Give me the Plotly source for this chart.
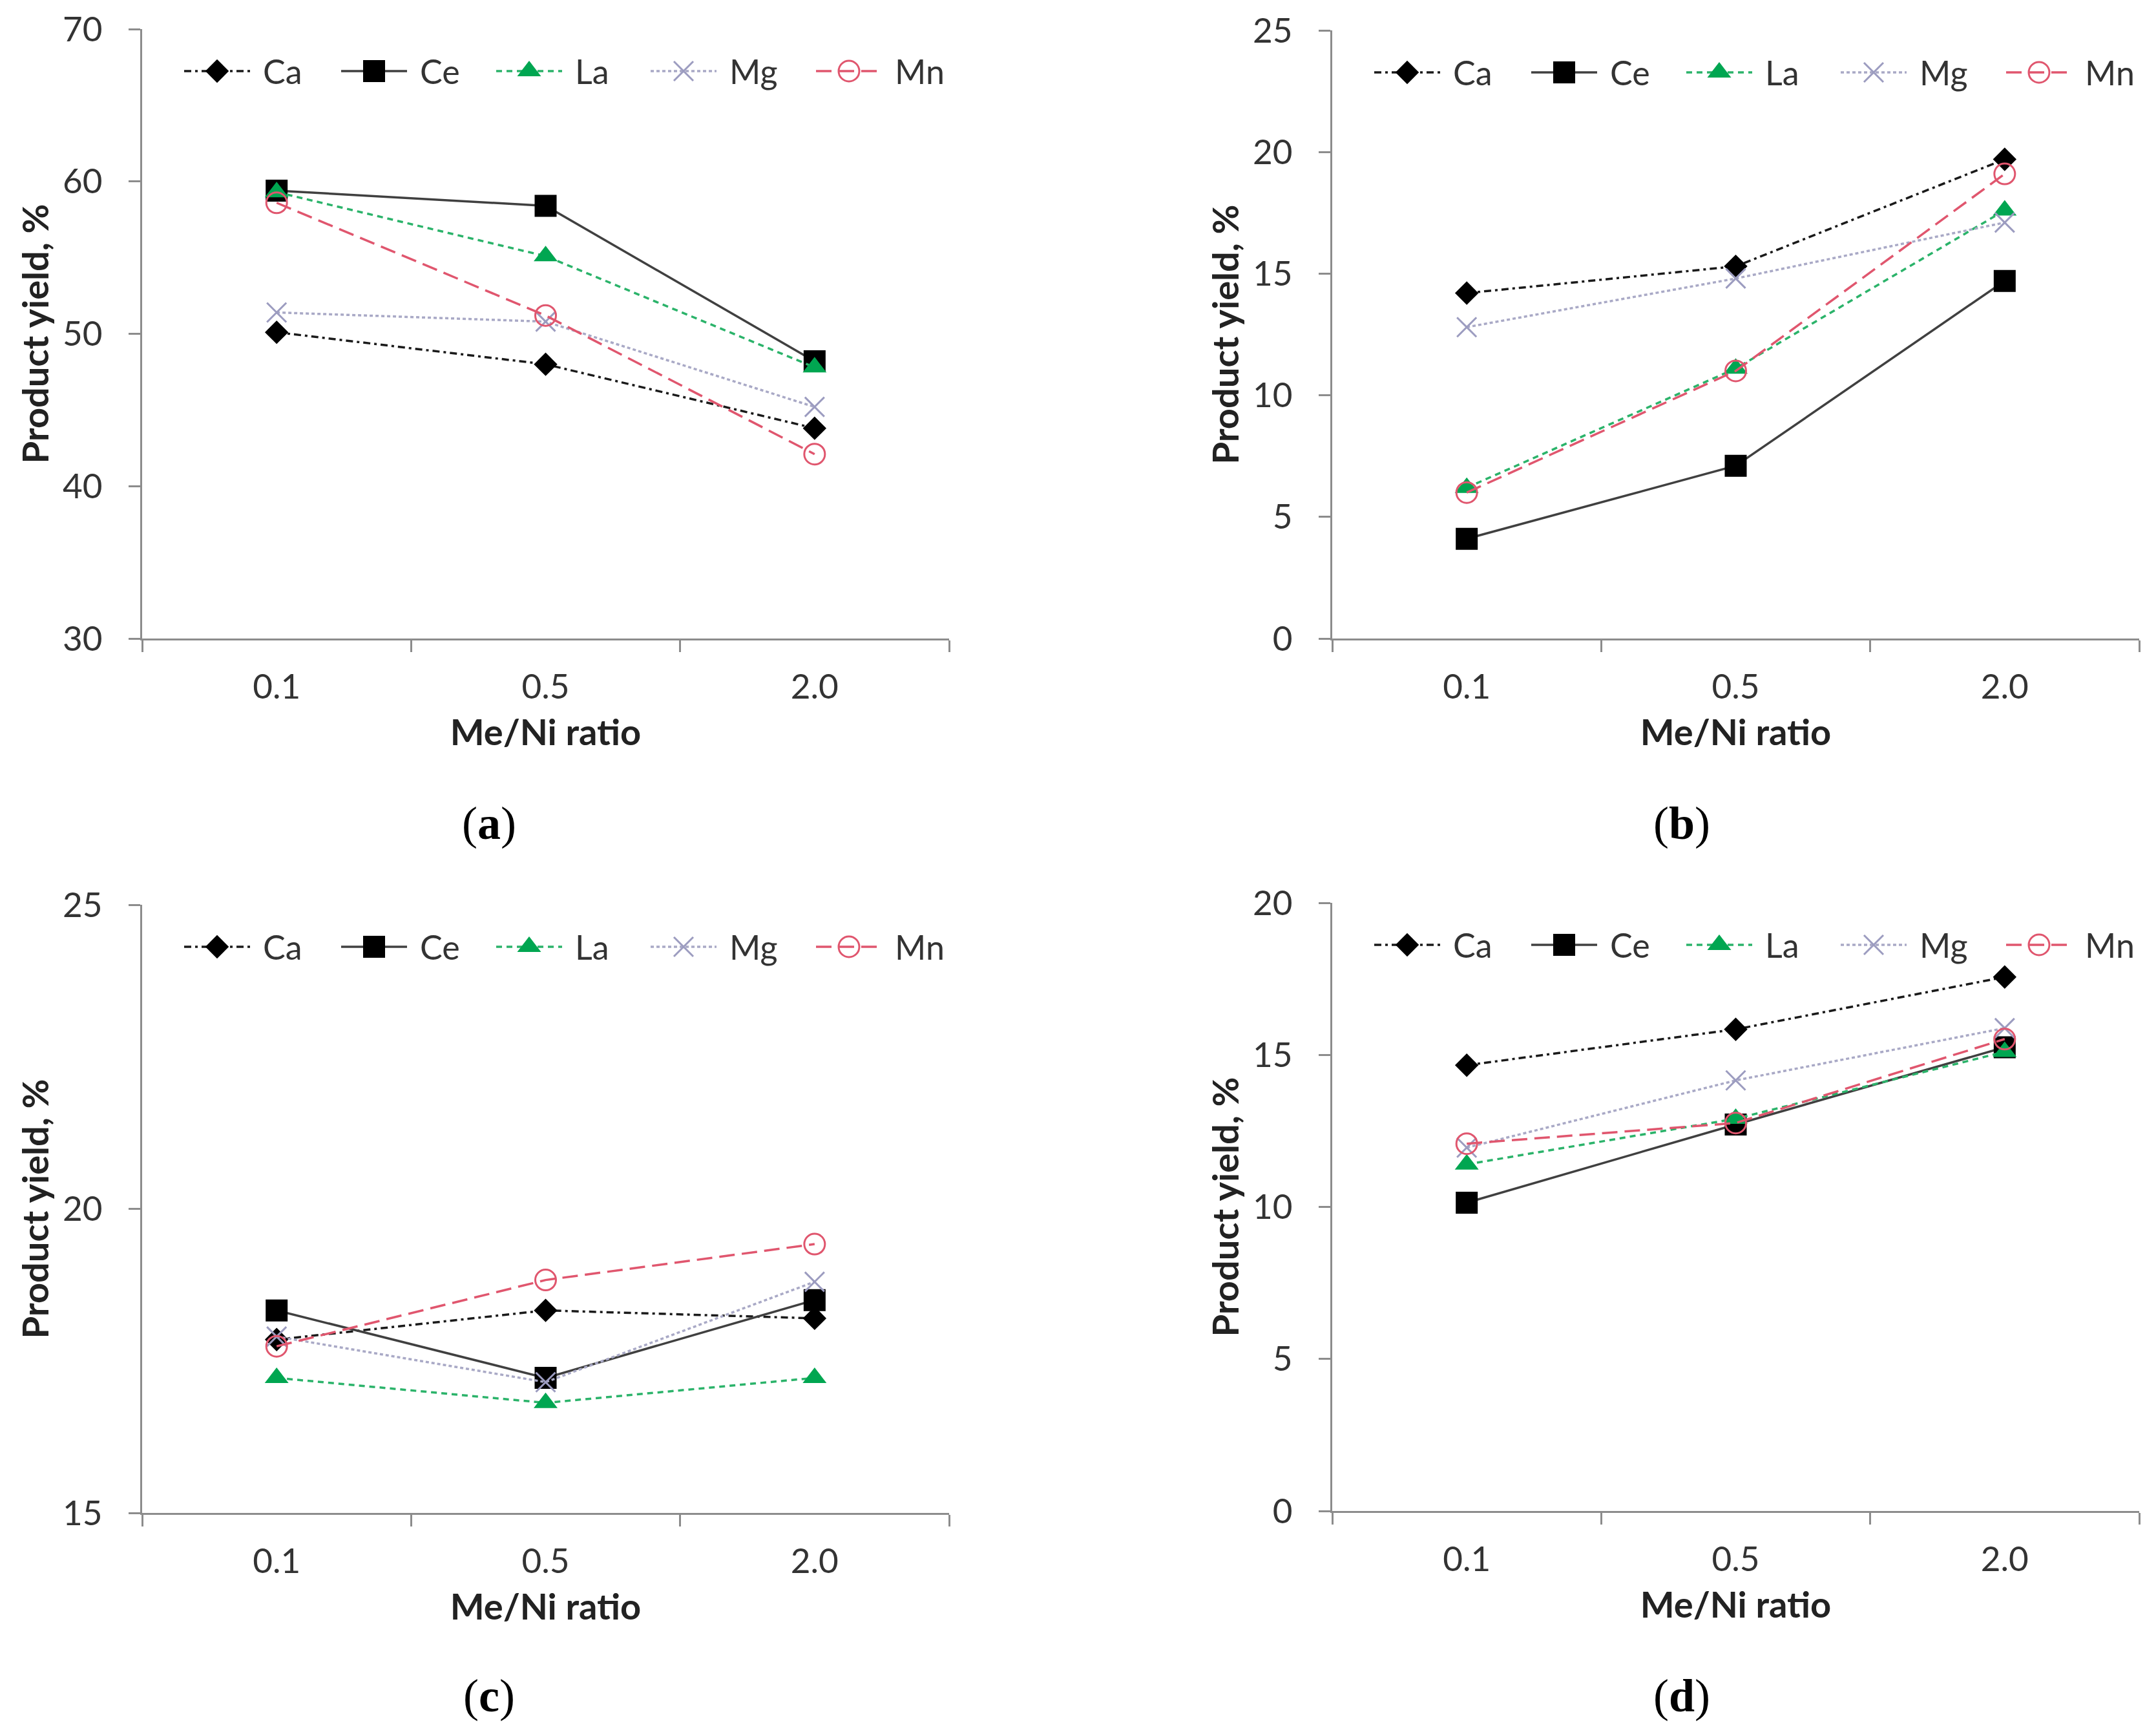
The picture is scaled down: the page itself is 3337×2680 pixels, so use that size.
import plotly.graph_objects as go

# ---------------- data ----------------
ratios = ["0.1", "0.5", "2.0"]
metals = ["Ca", "Ce", "La", "Mg", "Mn"]

a_Ca = [50.1, 48.0, 43.8]
a_Ce = [59.4, 58.4, 48.2]
a_La = [59.3, 55.1, 47.8]
a_Mg = [51.4, 50.8, 45.2]
a_Mn = [58.6, 51.2, 42.1]

b_Ca = [14.2, 15.3, 19.7]
b_Ce = [4.1, 7.1, 14.7]
b_La = [6.2, 11.1, 17.6]
b_Mg = [12.8, 14.8, 17.1]
b_Mn = [6.0, 11.0, 19.1]

c_Ca = [17.85, 18.33, 18.2]
c_Ce = [18.33, 17.22, 18.5]
c_La = [17.22, 16.81, 17.22]
c_Mg = [17.9, 17.15, 18.8]
c_Mn = [17.74, 18.83, 19.42]

d_Ca = [14.66, 15.84, 17.56]
d_Ce = [10.14, 12.71, 15.25]
d_La = [11.4, 12.9, 15.1]
d_Mg = [11.95, 14.16, 15.88]
d_Mn = [12.08, 12.76, 15.52]

panel_letters = ["a", "b", "c", "d"]
panel_data = [
    [a_Ca, a_Ce, a_La, a_Mg, a_Mn],
    [b_Ca, b_Ce, b_La, b_Mg, b_Mn],
    [c_Ca, c_Ce, c_La, c_Mg, c_Mn],
    [d_Ca, d_Ce, d_La, d_Mg, d_Mn],
]
y_ranges = [[30, 70], [0, 25], [15, 25], [0, 20]]
y_dticks = [10, 5, 5, 5]

x_title = "Me/Ni ratio"
y_title = "Product yield, %"

# ---------------- styles ----------------
W, H = 3337, 2680          # browser window
PAD = 8                     # default page body margin
FW, FH = W - 2 * PAD, H - 2 * PAD
FONT = "Lato"
TICK_FS = 53
TITLE_FS = 56
LEG_FS = 52
AXIS_COL = "#8c8c8c"
TXT_COL = "#333333"

styles = {
    "Ca": dict(line=dict(color="#1a1a1a", width=3.5, dash="11px,6px,4px,6px"),
               marker=dict(symbol="diamond", size=28, color="#000000")),
    "Ce": dict(line=dict(color="#404040", width=3.5),
               marker=dict(symbol="square", size=34, color="#000000")),
    "La": dict(line=dict(color="#2bb36a", width=3.5, dash="9px,7px"),
               marker=dict(symbol="triangle-up", size=32, color="#00a651")),
    "Mg": dict(line=dict(color="#a9a9c6", width=3.5, dash="5px,4px"),
               marker=dict(symbol="x-thin", size=30, color="#9c9cc0",
                           line=dict(color="#9c9cc0", width=3))),
    "Mn": dict(line=dict(color="#e0566e", width=3.5, dash="24px,11px"),
               marker=dict(symbol="circle-open", size=32, color="#e0566e",
                           line=dict(color="#e0566e", width=3))),
}

# plot areas in page pixels (left, right, top, bottom)
boxes = [
    (220, 1469, 45, 988),
    (2062, 3311, 47, 988),
    (220, 1469, 1400, 2341),
    (2062, 3311, 1397, 2338),
]
# panel label centres in page pixels
label_pos = [(757, 1274), (2603, 1274), (757, 2624), (2603, 2624)]

# legend layout (offsets in px from the plot's left/top edge)
leg_starts = [65, 308, 548, 787, 1043]
leg_sym_w = 102
leg_text_gap = 18
leg_dy = 65


def fx(px):
    return (px - PAD) / FW


def fy(py):
    return 1 - (py - PAD) / FH


fig = go.Figure()
annotations = []

for i, (letter, data) in enumerate(zip(panel_letters, panel_data)):
    k = "" if i == 0 else str(i + 1)
    ko = str(i + 5)
    l, r, t, b = boxes[i]
    pw, ph = r - l, b - t
    xd = [fx(l), fx(r)]
    yd = [fy(b), fy(t)]

    for m, vals in zip(metals, data):
        st = styles[m]
        fig.add_trace(go.Scatter(
            x=ratios, y=vals, name=m, mode="lines+markers",
            line=st["line"], marker=st["marker"],
            xaxis="x" + k, yaxis="y" + k, showlegend=False,
        ))

    # custom legend keys on an invisible overlay axis (pixel units)
    for m, x0 in zip(metals, leg_starts):
        st = styles[m]
        fig.add_trace(go.Scatter(
            x=[x0, x0 + leg_sym_w], y=[leg_dy, leg_dy],
            mode="lines", line=st["line"],
            xaxis="x" + ko, yaxis="y" + ko, showlegend=False,
            hoverinfo="skip", cliponaxis=False,
        ))
        fig.add_trace(go.Scatter(
            x=[x0 + leg_sym_w / 2], y=[leg_dy],
            mode="markers", marker=st["marker"],
            xaxis="x" + ko, yaxis="y" + ko, showlegend=False,
            hoverinfo="skip", cliponaxis=False,
        ))
        annotations.append(dict(
            x=x0 + leg_sym_w + leg_text_gap, y=leg_dy,
            xref="x" + ko, yref="y" + ko, text=m, showarrow=False,
            xanchor="left", yanchor="middle",
            font=dict(family=FONT, size=LEG_FS, color=TXT_COL),
        ))

    fig.update_layout(**{
        "xaxis" + k: dict(
            domain=xd, anchor="y" + k, type="category",
            categoryorder="array", categoryarray=ratios,
            range=[-0.5, 2.5], tickson="boundaries", automargin=False,
            ticks="outside", ticklen=18, tickwidth=3, tickcolor=AXIS_COL,
            showline=True, linecolor=AXIS_COL, linewidth=3,
            showgrid=False, zeroline=False,
            tickfont=dict(family=FONT, size=TICK_FS, color=TXT_COL),
            ticklabelstandoff=26,
            title=dict(text="<b>" + x_title + "</b>", standoff=24,
                       font=dict(family=FONT, size=TITLE_FS, color="#222222")),
        ),
        "yaxis" + k: dict(
            domain=yd, anchor="x" + k, range=y_ranges[i], dtick=y_dticks[i],
            automargin=False,
            ticks="outside", ticklen=18, tickwidth=3, tickcolor=AXIS_COL,
            showline=True, linecolor=AXIS_COL, linewidth=3,
            showgrid=False, zeroline=False,
            tickfont=dict(family=FONT, size=TICK_FS, color=TXT_COL),
            ticklabelstandoff=30,
            title=dict(text="<b>" + y_title + "</b>", standoff=4,
                       font=dict(family=FONT, size=TITLE_FS, color="#222222")),
        ),
        "xaxis" + ko: dict(domain=xd, anchor="y" + ko, range=[0, pw],
                           visible=False, automargin=False, fixedrange=True),
        "yaxis" + ko: dict(domain=yd, anchor="x" + ko, range=[ph, 0],
                           visible=False, automargin=False, fixedrange=True),
    })

    lx, ly = label_pos[i]
    annotations.append(dict(
        x=fx(lx), y=fy(ly), xref="paper", yref="paper",
        text="(<b>" + letter + "</b>)", showarrow=False,
        font=dict(family="Liberation Serif", size=72, color="#000000"),
        xanchor="center", yanchor="middle",
    ))

fig.update_layout(
    template="none",
    width=FW, height=FH,
    margin=dict(l=0, r=0, t=0, b=0, pad=0),
    paper_bgcolor="white", plot_bgcolor="rgba(0,0,0,0)",
    showlegend=False,
    annotations=annotations,
)

fig.write_html("out.html")
